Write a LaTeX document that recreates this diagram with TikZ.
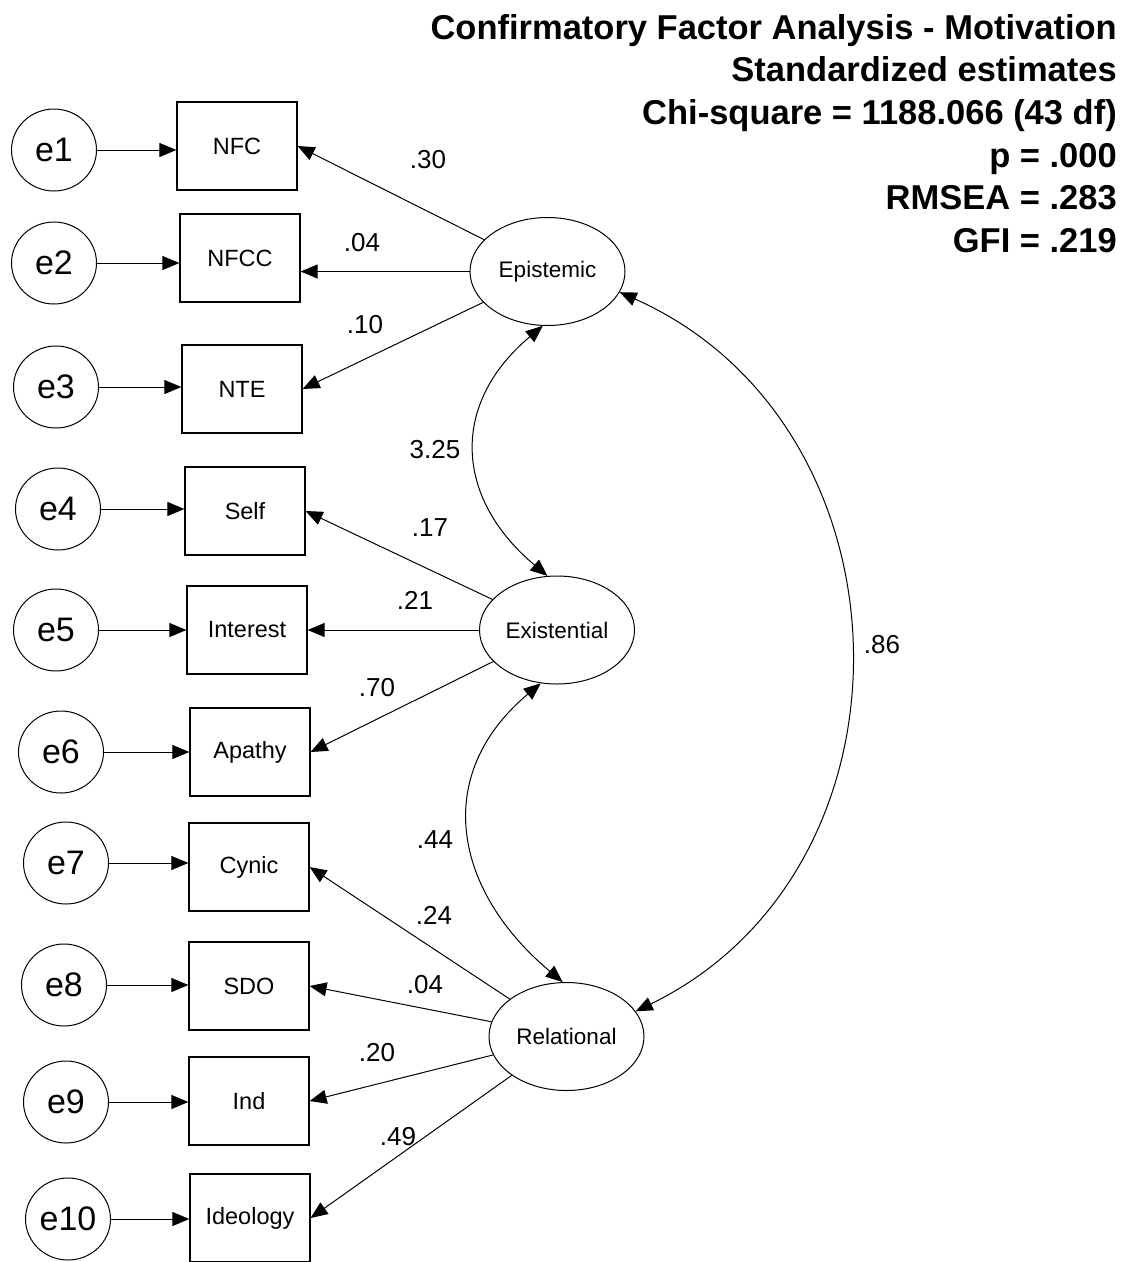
\documentclass[tikz,border=0pt]{standalone}
\usepackage{fontspec}
\setmainfont{Liberation Sans}
\usepackage{tikz}
\usetikzlibrary{shapes,arrows.meta}
\tikzstyle{errnode} = [ellipse, draw, line width=1pt, inner sep=0pt, minimum width=85pt, minimum height=82pt, font=\fontsize{34}{40}\selectfont]
\tikzstyle{obsnode} = [rectangle, draw, line width=1.2pt, inner sep=0pt, minimum width=120pt, minimum height=88pt, font=\fontsize{23.5}{27}\selectfont]
\tikzstyle{latnode} = [ellipse, draw, line width=1pt, inner sep=0pt, minimum width=155pt, minimum height=108pt, font=\fontsize{22.5}{26}\selectfont]
\tikzstyle{est} = [inner sep=0pt, font=\fontsize{26}{30}\selectfont]
\tikzstyle{onearrow} = [draw, line width=1pt, -{Triangle[length=17pt,width=14pt]}]
\tikzstyle{twoarrow} = [draw, line width=1pt, {Triangle[length=17pt,width=14pt]}-{Triangle[length=17pt,width=14pt]}]

\begin{document}
\begin{tikzpicture}[x=1pt, y=1pt]

\useasboundingbox (0,0) rectangle (1129,-1262);

\node [obsnode] at (237,-146) (nfc) {NFC};
\node [obsnode] at (240,-258) (nfcc) {NFCC};
\node [obsnode] at (242,-389) (nte) {NTE};
\node [obsnode] at (245,-511) (self) {Self};
\node [obsnode] at (247,-630) (interest) {Interest};
\node [obsnode] at (250,-752) (apathy) {Apathy};
\node [obsnode] at (249,-867) (cynic) {Cynic};
\node [obsnode] at (249,-986) (sdo) {SDO};
\node [obsnode] at (249,-1101) (ind) {Ind};
\node [obsnode] at (250,-1218) (ideology) {Ideology};

\node [errnode] at (54,-150) (e1) {e1};
\node [errnode] at (54,-263) (e2) {e2};
\node [errnode] at (56,-387) (e3) {e3};
\node [errnode] at (58,-509) (e4) {e4};
\node [errnode] at (56,-630) (e5) {e5};
\node [errnode] at (61,-752) (e6) {e6};
\node [errnode] at (66,-863) (e7) {e7};
\node [errnode] at (64,-985) (e8) {e8};
\node [errnode] at (66,-1102) (e9) {e9};
\node [errnode] at (68,-1219) (e10) {e10};

\path [onearrow] (e1) to (e1 -| nfc.west);
\path [onearrow] (e2) to (e2 -| nfcc.west);
\path [onearrow] (e3) to (e3 -| nte.west);
\path [onearrow] (e4) to (e4 -| self.west);
\path [onearrow] (e5) to (e5 -| interest.west);
\path [onearrow] (e6) to (e6 -| apathy.west);
\path [onearrow] (e7) to (e7 -| cynic.west);
\path [onearrow] (e8) to (e8 -| sdo.west);
\path [onearrow] (e9) to (e9 -| ind.west);
\path [onearrow] (e10) to (e10 -| ideology.west);

\node [latnode] at (547.5,-271.5) (epi) {Epistemic};
\node [latnode] at (557,-630) (exi) {Existential};
\node [latnode] at (566.5,-1036.5) (rel) {Relational};

\path [onearrow] (epi) to (nfc.east);
\path [onearrow] (epi) to (epi -| nfcc.east);
\path [onearrow] (epi) to (nte.east);
\path [onearrow] (exi) to (self.east);
\path [onearrow] (exi) to (exi -| interest.east);
\path [onearrow] (exi) to (apathy.east);
\path [onearrow] (rel) to (cynic.east);
\path [onearrow] (rel) to (sdo.east);
\path [onearrow] (rel) to (ind.east);
\path [onearrow] (rel) to (ideology.east);

\path [twoarrow] (epi.265) to [out=220, in=140, looseness=1.24] (exi.100);
\path [twoarrow] (exi.253) to [out=220, in=140, looseness=1.22] (rel.94);
\path [twoarrow] (epi.344) to [out=-24, in=26, looseness=1.16] (rel.20);

%% annotations

\node [est] at (428,-160) (lnfc) {.30};
\node [est] at (362,-243) (lnfcc) {.04};
\node [est] at (365,-325) (lnte) {.10};
\node [est] at (430,-528) (lself) {.17};
\node [est] at (415,-600) (linterest) {.21};
\node [est] at (377,-688) (lapathy) {.70};
\node [est] at (434,-915) (lcynic) {.24};
\node [est] at (425,-985) (lsdo) {.04};
\node [est] at (377,-1053) (lind) {.20};
\node [est] at (398,-1137) (lideology) {.49};
\node [est] at (435,-450) (lepiexi) {3.25};
\node [est] at (435,-840) (lexirel) {.44};
\node [est] at (882,-645) (lepirel) {.86};

\node [anchor=north east, align=right, inner sep=0pt, font=\bfseries\fontsize{34.5}{42.6}\selectfont] at (1117,-14) (title) {Confirmatory Factor Analysis - Motivation\\ Standardized estimates\\ Chi-square = 1188.066 (43 df)\\ p = .000\\ RMSEA = .283\\ GFI = .219};

\end{tikzpicture}
\end{document}
